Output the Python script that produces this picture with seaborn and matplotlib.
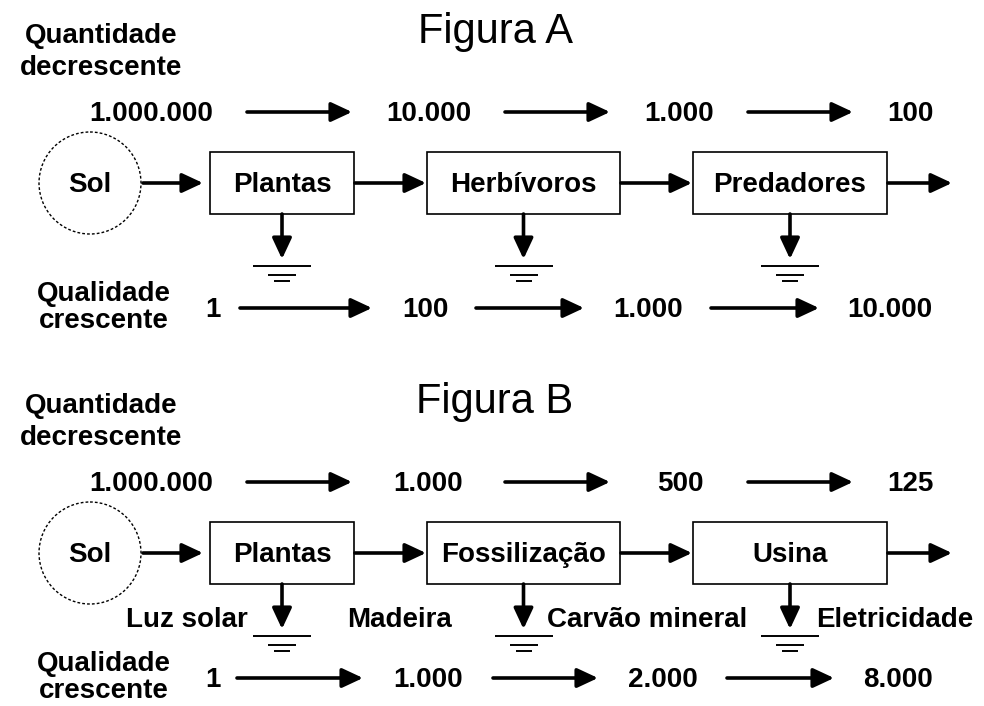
import matplotlib.pyplot as plt
import seaborn as sns
from matplotlib.patches import Circle, Rectangle, FancyArrowPatch

# diagram content
titles = ['Figura A', 'Figura B']
nodes_a = ['Plantas', 'Herbívoros', 'Predadores']
nodes_b = ['Plantas', 'Fossilização', 'Usina']
quant_a = ['1.000.000', '10.000', '1.000', '100']
quant_b = ['1.000.000', '1.000', '500', '125']
qual_a = ['1', '100', '1.000', '10.000']
qual_b = ['1', '1.000', '2.000', '8.000']
losses_b = ['Luz solar', 'Madeira', 'Carvão mineral', 'Eletricidade']
source = 'Sol'

# layout (pixel coordinates, y grows downward, per-panel offset)
box_x = [(210, 354), (427, 620), (693, 887)]
quant_x = [151, 429, 679, 910]
quant_x_b = [151, 428, 680, 910]
quant_arrows = [(247, 352), (505, 610), (748, 853)]
qual_x_a = [213, 425, 648, 890]
qual_x_b = [213, 428, 663, 898]
qual_arrows_a = [(240, 372), (476, 584), (711, 819)]
qual_arrows_b = [(237, 363), (493, 598), (727, 834)]
loss_pos = [(248, 'right'), (347, 'left'), (547, 'left'), (816, 'left')]

sns.set_style('white')
plt.rcParams['font.family'] = ['Liberation Sans', 'DejaVu Sans']
plt.rcParams['text.color'] = 'black'

fig = plt.figure(figsize=(9.84, 7.06), dpi=100)
ax = fig.add_axes([0, 0, 1, 1])
ax.set_xlim(0, 984)
ax.set_ylim(706, 0)
ax.axis('off')

BODY = dict(fontsize=20, fontweight='bold', va='baseline', color='black')


def arrow(x0, y0, x1, y1, lw=2.6):
    ax.add_patch(FancyArrowPatch((x0, y0), (x1, y1),
                                 arrowstyle='-|>,head_length=0.9,head_width=0.42',
                                 mutation_scale=14, lw=lw, color='black',
                                 shrinkA=0, shrinkB=0))


def ground(xc, y):
    for w, dy in [(29, 0), (14, 9), (8, 15)]:
        ax.plot([xc - w, xc + w], [y + dy, y + dy], color='black', lw=1.4,
                solid_capstyle='butt')


def panel(y0, title, nodes, quant, qx, qual, qlx, qarrows, losses=None):
    ax.text(495, y0 + 43, title, fontsize=30, ha='center', va='baseline',
            color='black')
    ax.text(101, y0 + 43, 'Quantidade', ha='center', **BODY)
    ax.text(101, y0 + 75, 'decrescente', ha='center', **BODY)
    ax.text(104, y0 + 301, 'Qualidade', ha='center', **BODY)
    ax.text(104, y0 + 328, 'crescente', ha='center', **BODY)

    # quantity row
    for lab, x in zip(quant, qx):
        ax.text(x, y0 + 121, lab, ha='center', **BODY)
    for a, b in quant_arrows:
        arrow(a, y0 + 112, b, y0 + 112)

    # source and boxes
    ax.add_patch(Circle((90, y0 + 183), 51, fill=False, lw=1.0,
                        ls=(0, (2, 1.5)), color='black'))
    ax.text(90, y0 + 192, source, ha='center', **BODY)
    arrow(143, y0 + 183, 203, y0 + 183)
    for i, (name, (xa, xb)) in enumerate(zip(nodes, box_x)):
        ax.add_patch(Rectangle((xa, y0 + 152), xb - xa, 62, fill=False,
                               lw=1.2, color='black'))
        ax.text((xa + xb) / 2, y0 + 192, name, ha='center', **BODY)
        nxt = box_x[i + 1][0] if i + 1 < len(box_x) else 953
        arrow(xb + 1, y0 + 183, nxt - 1, y0 + 183)
        xc = (xa + xb) / 2
        arrow(xc, y0 + 214, xc, y0 + 259)
        ground(xc, y0 + 266)

    # loss labels
    if losses:
        for lab, (x, ha) in zip(losses, loss_pos):
            ax.text(x, y0 + 257, lab, ha=ha, **BODY)

    # quality row
    for lab, x in zip(qual, qlx):
        ax.text(x, y0 + 317, lab, ha='center', **BODY)
    for a, b in qarrows:
        arrow(a, y0 + 308, b, y0 + 308)


panel(0, titles[0], nodes_a, quant_a, quant_x, qual_a, qual_x_a, qual_arrows_a)
panel(370, titles[1], nodes_b, quant_b, quant_x_b, qual_b, qual_x_b, qual_arrows_b,
      losses_b)

fig.savefig('out.png', dpi=100, facecolor='white')
